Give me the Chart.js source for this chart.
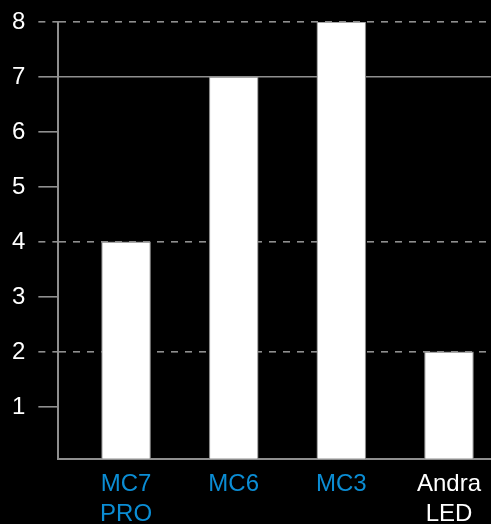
<!DOCTYPE html>
<html>
<head>
<meta charset="utf-8">
<script src="https://cdn.jsdelivr.net/npm/chart.js@4"></script>
<style>
  html, body { margin: 0; padding: 0; background: #000; overflow: hidden; }
  #wrap { width: 491px; height: 524px; position: relative; }
</style>
</head>
<body>
<div id="wrap"><canvas id="c"></canvas></div>
<script>
const categories = [['MC7', 'PRO'], 'MC6', 'MC3', ['Andra', 'LED']];
const values = [4, 7, 8, 2];
const yTickValues = [1, 2, 3, 4, 5, 6, 7, 8];
const dashedGridValues = [2, 4, 8];
const solidGridValues = [7];
const labelColors = ['#0b8dd4', '#0b8dd4', '#0b8dd4', '#ffffff'];

const GRID = '#8f8f8f';
const DASH = [7, 7];
const FONT = { family: "'Liberation Sans', Arial, sans-serif", size: 24, lineHeight: 1.28 };

const points = values.map((v, i) => ({ x: i, y: v }));

new Chart(document.getElementById('c'), {
  type: 'bar',
  data: {
    datasets: [{
      data: points,
      backgroundColor: '#ffffff',
      borderColor: '#8a8a8a',
      borderWidth: 1.2,
      barThickness: 49
    }]
  },
  options: {
    responsive: true,
    maintainAspectRatio: false,
    animation: false,
    layout: { padding: { left: -1, top: 22, right: 0, bottom: -16 } },
    plugins: { legend: { display: false }, tooltip: { enabled: false } },
    scales: {
      x: {
        type: 'linear',
        offset: false,
        min: -0.629,
        max: 3.389,
        afterBuildTicks: (scale) => { scale.ticks = categories.map((c, i) => ({ value: i })); },
        grid: { display: false, drawTicks: false, drawOnChartArea: false, offset: false },
        border: { display: true, color: GRID, width: 2 },
        ticks: {
          autoSkip: false,
          maxRotation: 0,
          padding: 10,
          font: FONT,
          color: (ctx) => labelColors[ctx.index] || '#fff',
          callback: (value) => categories[value]
        }
      },
      y: {
        position: 'left',
        min: 0.06,
        max: 8,
        afterBuildTicks: (scale) => { scale.ticks = yTickValues.map(v => ({ value: v })); },
        border: { display: true, color: GRID, width: 2, dash: DASH },
        grid: {
          drawTicks: true,
          tickLength: 20,
          lineWidth: 1.6,
          tickWidth: 1.6,
          color: (ctx) => dashedGridValues.includes(ctx.tick && ctx.tick.value) ? GRID : 'rgba(0,0,0,0)',
          tickColor: GRID,
          tickBorderDash: (ctx) => dashedGridValues.includes(ctx.tick && ctx.tick.value) ? DASH : []
        },
        ticks: {
          padding: 13,
          color: '#ffffff',
          font: { family: FONT.family, size: 24, lineHeight: 0.7 }
        }
      },
      y2: {
        position: 'left',
        min: 0.06,
        max: 8,
        afterBuildTicks: (scale) => { scale.ticks = solidGridValues.map(v => ({ value: v })); },
        border: { display: false },
        grid: {
          drawTicks: false,
          lineWidth: 1.6,
          color: GRID
        },
        ticks: { display: false }
      }
    }
  }
});
</script>
</body>
</html>
